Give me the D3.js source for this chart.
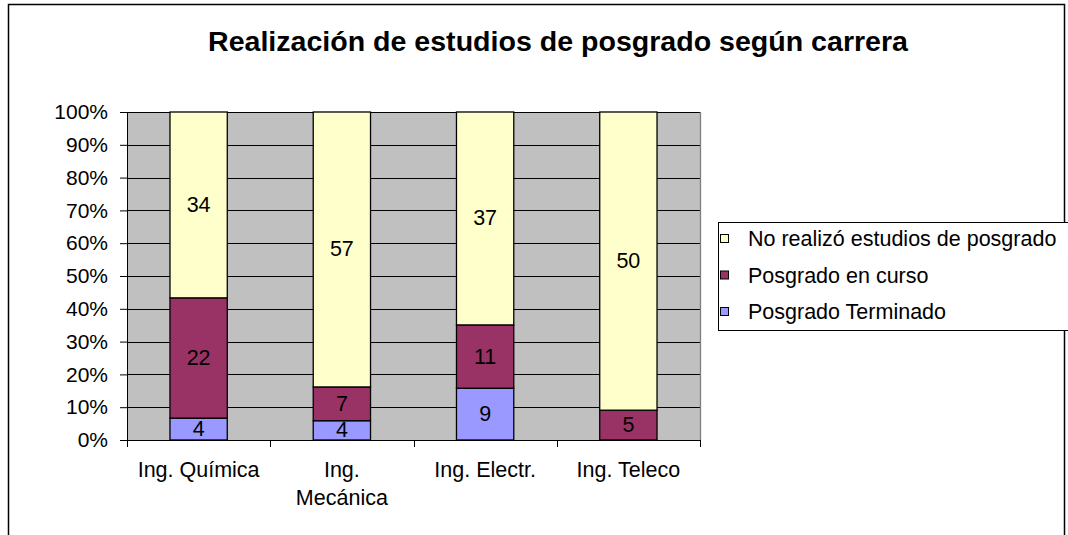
<!DOCTYPE html>
<html><head><meta charset="utf-8">
<script src="https://cdn.jsdelivr.net/npm/d3@7"></script>
<style>body{margin:0;background:#fff;font-family:"Liberation Sans",Arial,sans-serif;}</style>
</head><body>
<svg id="c" width="1068" height="535"></svg>
<script>
const categories = [["Ing. Química"], ["Ing.", "Mecánica"], ["Ing. Electr."], ["Ing. Teleco"]];
const seriesNames = ["Posgrado Terminado", "Posgrado en curso", "No realizó estudios de posgrado"];
const terminado = [4, 4, 9, 0];
const enCurso = [22, 7, 11, 5];
const noRealizo = [34, 57, 37, 50];
const yTicks = [0, 0.1, 0.2, 0.3, 0.4, 0.5, 0.6, 0.7, 0.8, 0.9, 1];
const colors = ["#9999FF", "#993366", "#FFFFCC"];

(function() {
const svg = d3.select("#c");
const font = '"Liberation Sans",Arial,sans-serif';
const fs = 21.5;

svg.append("rect").attr("x", 8.5).attr("y", 4.5).attr("width", 1056).attr("height", 560)
  .attr("fill", "#fff").attr("stroke", "#000").attr("stroke-width", 1.5);

svg.append("text").attr("x", 558).attr("y", 51).attr("text-anchor", "middle")
  .attr("font-family", font).attr("font-weight", "bold").attr("font-size", 27)
  .attr("textLength", 700).attr("lengthAdjust", "spacingAndGlyphs")
  .text("Realización de estudios de posgrado según carrera");

const pL = 127, pR = 700, pT = 112, pB = 440;
const idx = d3.range(categories.length);
const x = d3.scaleBand().domain(idx).range([pL, pR]).paddingInner(0.6).paddingOuter(0.3);
const xb = d3.scaleBand().domain(idx).range([pL, pR]);
const y = d3.scaleLinear().domain([0, 1]).range([pB, pT]);

svg.append("rect").attr("x", pL).attr("y", pT).attr("width", pR - pL).attr("height", pB - pT)
  .attr("fill", "#C0C0C0");

svg.append("g").selectAll("line").data(yTicks.slice(1)).join("line")
  .attr("x1", pL).attr("x2", pR).attr("y1", d => Math.round(y(d)) + 0.5).attr("y2", d => Math.round(y(d)) + 0.5)
  .attr("stroke", "#000").attr("stroke-width", 1);

svg.append("line").attr("x1", pR + 0.5).attr("x2", pR + 0.5).attr("y1", pT).attr("y2", pB)
  .attr("stroke", "#808080").attr("stroke-width", 1.3);

const data = idx.map(i => ({i, vals: [terminado[i], enCurso[i], noRealizo[i]]}));
const stacked = data.map(d => {
  const tot = d3.sum(d.vals);
  let acc = 0;
  return d.vals.map((v, k) => { const s = {i: d.i, k, v, y0: acc / tot, y1: (acc + v) / tot}; acc += v; return s; });
}).flat().filter(s => s.v > 0);

svg.append("g").selectAll("rect").data(stacked).join("rect")
  .attr("x", s => x(s.i)).attr("width", x.bandwidth())
  .attr("y", s => y(s.y1)).attr("height", s => y(s.y0) - y(s.y1))
  .attr("fill", s => colors[s.k]).attr("stroke", "#000").attr("stroke-width", 1.3);

svg.append("g").selectAll("text").data(stacked).join("text")
  .attr("x", s => x(s.i) + x.bandwidth() / 2).attr("y", s => (y(s.y0) + y(s.y1)) / 2 + 7)
  .attr("text-anchor", "middle").attr("font-family", font).attr("font-size", fs)
  .text(s => s.v);

const yAxis = d3.axisLeft(y).tickValues(yTicks).tickFormat(d3.format(".0%")).tickSize(7).tickPadding(12);
const ga = svg.append("g").attr("transform", `translate(${pL},0)`).call(yAxis);
ga.selectAll("text").attr("font-family", font).attr("font-size", 21).attr("fill", "#000");
ga.select(".domain").attr("stroke", "#000");

svg.append("line").attr("x1", pL).attr("x2", pR + 1).attr("y1", pB + 0.5).attr("y2", pB + 0.5).attr("stroke", "#000");
svg.append("g").selectAll("line").data(d3.range(categories.length + 1)).join("line")
  .attr("x1", d => Math.round(pL + d * xb.step()) + 0.5).attr("x2", d => Math.round(pL + d * xb.step()) + 0.5)
  .attr("y1", pB).attr("y2", pB + 7).attr("stroke", "#000");
const cl = svg.append("g").selectAll("text").data(idx).join("text")
  .attr("x", i => xb(i) + xb.bandwidth() / 2).attr("y", 477)
  .attr("text-anchor", "middle").attr("font-family", font).attr("font-size", fs);
cl.each(function(i) {
  const t = d3.select(this);
  categories[i].forEach((line, j) => t.append("tspan").attr("x", xb(i) + xb.bandwidth() / 2).attr("dy", j ? 28 : 0).text(line));
});

const lg = svg.append("g");
lg.append("rect").attr("x", 718.5).attr("y", 222.5).attr("width", 380).attr("height", 108)
  .attr("fill", "#fff").attr("stroke", "#000");
const legendOrder = [2, 1, 0];
legendOrder.forEach((k, j) => {
  const bl = 246 + j * 36.5;
  lg.append("rect").attr("x", 720.5).attr("y", bl - 11.5).attr("width", 8).attr("height", 8)
    .attr("fill", colors[k]).attr("stroke", "#000");
  lg.append("text").attr("x", 748).attr("y", bl).attr("font-family", font).attr("font-size", fs)
    .text(seriesNames[k]);
});
})();
</script>
</body></html>
